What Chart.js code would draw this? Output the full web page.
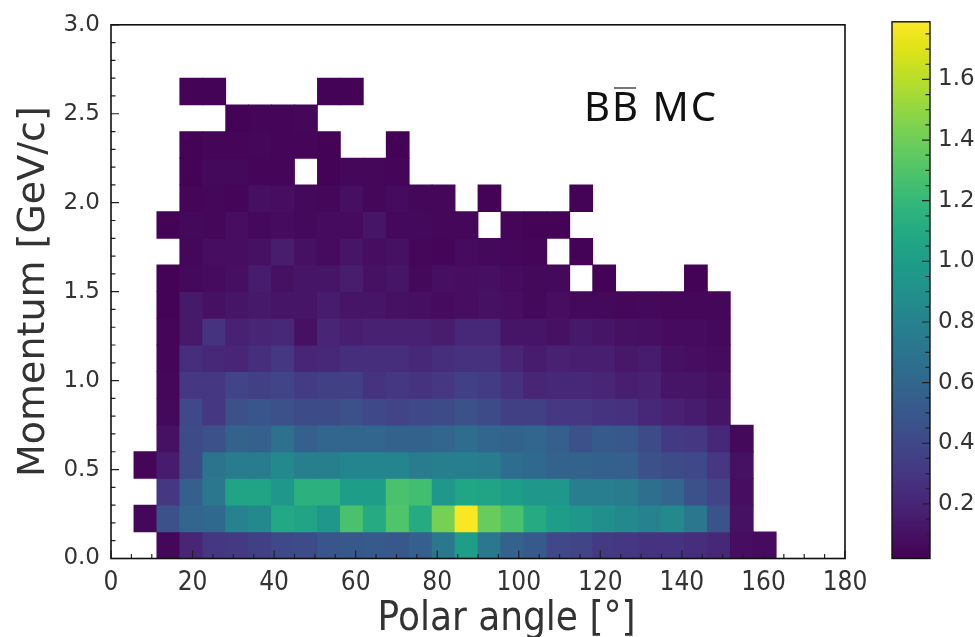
<!DOCTYPE html>
<html>
<head>
<meta charset="utf-8">
<script src="https://cdn.jsdelivr.net/npm/chart.js@4.4.0/dist/chart.umd.min.js"></script>
<style>
  html, body { margin: 0; padding: 0; background: #fff; }
  #wrap { position: relative; width: 975px; height: 637px; overflow: hidden; }
  #heat { position: absolute; left: 0; top: 0; }
  #cbar { position: absolute; left: 860px; top: 0; }
  #label { position: absolute; left: 584px; top: 86px; font-family: "Noto Sans", sans-serif; font-size: 40px; line-height: 40px; letter-spacing: 2px; color: #111; white-space: nowrap; }
  .ob { position: relative; }
  .ob::after { content: ''; position: absolute; left: 2px; right: 4px; top: 9px; height: 2px; background: #777; }
</style>
</head>
<body>
<div id="wrap">
  <canvas id="heat" width="975" height="637" style="width:975px;height:637px"></canvas>
  <canvas id="cbar" width="115" height="637" style="width:115px;height:637px"></canvas>
  <div id="label">B<span class="ob">B</span> MC</div>
</div>
<script>
// bin edges
const angleEdges = [0, 5.625, 11.25, 16.875, 22.5, 28.125, 33.75, 39.375, 45, 50.625, 56.25, 61.875,
  67.5, 73.125, 78.75, 84.375, 90, 95.625, 101.25, 106.875, 112.5, 118.125, 123.75, 129.375,
  135, 140.625, 146.25, 151.875, 157.5, 163.125, 168.75, 174.375, 180];
const momentumEdges = [0, 0.15, 0.3, 0.45, 0.6, 0.75, 0.9, 1.05, 1.2, 1.35, 1.5, 1.65, 1.8, 1.95,
  2.1, 2.25, 2.4, 2.55, 2.7, 2.85, 3.0];

const angleTicks = [0, 20, 40, 60, 80, 100, 120, 140, 160, 180];
const momentumTicks = [0, 0.5, 1.0, 1.5, 2.0, 2.5, 3.0];
const scaleTicks = [0.2, 0.4, 0.6, 0.8, 1.0, 1.2, 1.4, 1.6];
const scaleMin = 0.02, scaleMax = 1.79;

// one row per momentum bin (lowest first), one entry per angle bin, _ = empty
const _ = null;
const counts = [
  [_, _, 0.05, 0.2, 0.3, 0.32, 0.35, 0.4, 0.42, 0.48, 0.5, 0.52, 0.5, 0.55, 0.72, 1.0, 0.72, 0.57, 0.52, 0.4, 0.38, 0.32, 0.3, 0.28, 0.28, 0.25, 0.22, 0.08, 0.07],
  [_, 0.05, 0.45, 0.6, 0.62, 0.8, 0.85, 1.08, 1.05, 0.95, 1.28, 1.1, 1.3, 1.1, 1.42, 1.78, 1.38, 1.28, 1.1, 1.0, 0.95, 0.9, 0.85, 0.8, 0.85, 0.72, 0.47, 0.1],
  [_, _, 0.3, 0.55, 0.72, 1.05, 1.05, 0.95, 1.15, 1.15, 1.0, 1.0, 1.28, 1.25, 0.95, 1.07, 1.05, 1.0, 0.95, 0.95, 0.77, 0.77, 0.75, 0.66, 0.6, 0.45, 0.38, 0.08],
  [_, 0.04, 0.15, 0.42, 0.7, 0.75, 0.75, 0.85, 0.78, 0.78, 0.82, 0.82, 0.82, 0.75, 0.78, 0.78, 0.75, 0.65, 0.62, 0.58, 0.58, 0.56, 0.55, 0.45, 0.42, 0.4, 0.3, 0.1],
  [_, _, 0.1, 0.42, 0.45, 0.58, 0.55, 0.68, 0.55, 0.6, 0.6, 0.6, 0.58, 0.58, 0.6, 0.65, 0.6, 0.58, 0.6, 0.55, 0.45, 0.52, 0.5, 0.42, 0.32, 0.3, 0.22, 0.06],
  [_, _, 0.06, 0.4, 0.3, 0.45, 0.48, 0.45, 0.42, 0.42, 0.45, 0.4, 0.38, 0.4, 0.42, 0.45, 0.42, 0.35, 0.35, 0.3, 0.3, 0.28, 0.27, 0.22, 0.18, 0.15, 0.12],
  [_, _, 0.05, 0.3, 0.3, 0.38, 0.35, 0.38, 0.33, 0.35, 0.35, 0.28, 0.3, 0.28, 0.3, 0.35, 0.33, 0.27, 0.2, 0.22, 0.22, 0.2, 0.17, 0.18, 0.12, 0.12, 0.1],
  [_, _, 0.04, 0.25, 0.22, 0.2, 0.25, 0.3, 0.2, 0.22, 0.25, 0.25, 0.25, 0.22, 0.25, 0.27, 0.27, 0.2, 0.15, 0.18, 0.17, 0.17, 0.13, 0.15, 0.1, 0.08, 0.07],
  [_, _, 0.04, 0.14, 0.28, 0.18, 0.2, 0.22, 0.1, 0.2, 0.17, 0.18, 0.18, 0.18, 0.16, 0.22, 0.22, 0.12, 0.12, 0.1, 0.14, 0.12, 0.1, 0.09, 0.07, 0.07, 0.06],
  [_, _, 0.03, 0.14, 0.1, 0.12, 0.14, 0.12, 0.12, 0.15, 0.12, 0.12, 0.1, 0.09, 0.07, 0.08, 0.1, 0.08, 0.06, 0.08, 0.06, 0.06, 0.05, 0.06, 0.05, 0.05, 0.05],
  [_, _, 0.03, 0.06, 0.07, 0.09, 0.15, 0.1, 0.12, 0.12, 0.16, 0.1, 0.12, 0.06, 0.09, 0.08, 0.09, 0.07, 0.06, 0.06, _, 0.03, _, _, _, 0.03],
  [_, _, _, 0.05, 0.08, 0.08, 0.1, 0.16, 0.1, 0.07, 0.12, 0.08, 0.1, 0.05, 0.04, 0.07, 0.06, 0.05, 0.04, _, 0.03],
  [_, _, 0.03, 0.06, 0.05, 0.08, 0.06, 0.07, 0.06, 0.07, 0.07, 0.12, 0.06, 0.06, 0.05, 0.05, _, 0.04, 0.03, 0.03],
  [_, _, _, 0.04, 0.05, 0.04, 0.09, 0.08, 0.06, 0.05, 0.09, 0.05, 0.07, 0.05, 0.05, _, 0.03, _, _, _, 0.03],
  [_, _, _, 0.03, 0.06, 0.06, 0.04, 0.04, _, 0.03, 0.05, 0.05, 0.04],
  [_, _, _, 0.03, 0.04, 0.04, 0.05, 0.04, 0.04, 0.03, _, _, 0.03],
  [_, _, _, _, _, 0.03, 0.04, 0.04, 0.05],
  [_, _, _, 0.03, 0.03, _, _, _, _, 0.03, 0.03]
];

const viridisStops = ['#440154', '#471365', '#482475', '#463480', '#414487', '#3b528b', '#355f8d',
  '#2f6c8e', '#2a788e', '#25848e', '#21918c', '#1e9c89', '#22a884', '#2fb47c', '#44bf70',
  '#5ec962', '#7ad151', '#9bd93c', '#bddf26', '#dfe318', '#fde725'];

function hexRgb(h) {
  return [parseInt(h.slice(1, 3), 16), parseInt(h.slice(3, 5), 16), parseInt(h.slice(5, 7), 16)];
}

function viridis(v) {
  let t = (v - scaleMin) / (scaleMax - scaleMin);
  t = Math.max(0, Math.min(1, t));
  const p = t * (viridisStops.length - 1);
  const i = Math.min(Math.floor(p), viridisStops.length - 2);
  const f = p - i;
  const a = hexRgb(viridisStops[i]), b = hexRgb(viridisStops[i + 1]);
  const c = a.map((x, k) => Math.round(x + (b[k] - x) * f));
  return 'rgb(' + c.join(',') + ')';
}

const cells = [];
counts.forEach(function(row, j) {
  row.forEach(function(v, i) {
    if (v == null) return;
    cells.push({
      x: (angleEdges[i] + angleEdges[i + 1]) / 2,
      y: [momentumEdges[j], momentumEdges[j + 1]],
      v: v
    });
  });
});

const textColor = '#333';
const condensed = "'DejaVu Sans Condensed', 'DejaVu Sans'";

// inward ticks + frame, drawn over the cells
const axisFrame = {
  id: 'axisFrame',
  afterDraw(chart) {
    const {ctx, chartArea: a} = chart;
    const xs = chart.scales.x, ys = chart.scales.y;
    ctx.save();
    ctx.strokeStyle = '#222';
    ctx.lineWidth = 1.2;
    ctx.beginPath();
    for (let k = 0; k <= 36; k++) {
      const px = xs.getPixelForValue(k * 5);
      const len = k % 4 === 0 ? 8 : 4.5;
      ctx.moveTo(px, a.bottom);
      ctx.lineTo(px, a.bottom - len);
    }
    for (let k = 0; k <= 30; k++) {
      const py = ys.getPixelForValue(k / 10);
      const len = k % 5 === 0 ? 8 : 4.5;
      ctx.moveTo(a.left, py);
      ctx.lineTo(a.left + len, py);
    }
    ctx.stroke();
    ctx.lineWidth = 1.6;
    ctx.strokeStyle = '#111';
    ctx.strokeRect(a.left, a.top, a.right - a.left, a.bottom - a.top);
    ctx.restore();
  }
};

new Chart(document.getElementById('heat'), {
  type: 'bar',
  data: {
    datasets: [{
      data: cells,
      backgroundColor: function(c) { return viridis(c.raw ? c.raw.v : 0); },
      borderWidth: 0,
      barPercentage: 1,
      categoryPercentage: 1,
      inflateAmount: 0.4
    }]
  },
  options: {
    responsive: false,
    animation: false,
    layout: { padding: { left: 0, top: 21, right: 130, bottom: 0 } },
    plugins: { legend: { display: false }, tooltip: { enabled: false } },
    scales: {
      x: {
        type: 'linear',
        min: 0,
        max: 180,
        offset: false,
        grid: { display: false, drawTicks: false, offset: false },
        border: { display: false },
        afterBuildTicks: function(s) { s.ticks = angleTicks.map(v => ({ value: v })); },
        afterFit: function(s) { s.height = 78.5; },
        ticks: {
          color: textColor,
          padding: 9,
          maxRotation: 0,
          font: { family: condensed, size: 26 },
          callback: v => String(v)
        },
        title: {
          display: true,
          // leading spaces nudge the title right, as in the original figure
          text: '     Polar angle [°]',
          color: textColor,
          padding: { top: 0, bottom: -3 },
          font: { family: condensed, size: 40, lineHeight: 1 }
        }
      },
      y: {
        type: 'linear',
        min: 0,
        max: 3,
        grid: { display: false, drawTicks: false },
        border: { display: false },
        afterBuildTicks: function(s) { s.ticks = momentumTicks.map(v => ({ value: v })); },
        afterFit: function(s) { s.width = 111; },
        ticks: {
          color: textColor,
          padding: 11,
          font: { family: 'DejaVu Sans', size: 23 },
          callback: v => Number(v).toFixed(1)
        },
        title: {
          display: true,
          text: 'Momentum [GeV/c]',
          color: textColor,
          padding: { top: 11, bottom: 0 },
          font: { family: 'DejaVu Sans', size: 38 }
        }
      }
    }
  },
  plugins: [axisFrame]
});

// colour bar
const barFrame = {
  id: 'barFrame',
  afterDraw(chart) {
    const {ctx, chartArea: a} = chart;
    const ys = chart.scales.y;
    ctx.save();
    ctx.strokeStyle = '#222';
    ctx.lineWidth = 1.2;
    ctx.beginPath();
    for (let k = 1; k <= 35; k++) {
      const py = ys.getPixelForValue(k * 0.05);
      const len = k % 4 === 0 ? 8 : 4.5;
      ctx.moveTo(a.right, py);
      ctx.lineTo(a.right - len, py);
    }
    ctx.stroke();
    ctx.lineWidth = 1.4;
    ctx.strokeStyle = '#111';
    ctx.strokeRect(a.left, a.top, a.right - a.left, a.bottom - a.top);
    ctx.restore();
  }
};

new Chart(document.getElementById('cbar'), {
  type: 'bar',
  data: {
    labels: [''],
    datasets: [{
      data: [[scaleMin, scaleMax]],
      backgroundColor: function(c) {
        const area = c.chart.chartArea;
        if (!area) return viridisStops[0];
        const g = c.chart.ctx.createLinearGradient(0, area.bottom, 0, area.top);
        viridisStops.forEach((col, k) => g.addColorStop(k / (viridisStops.length - 1), col));
        return g;
      },
      borderWidth: 0,
      barPercentage: 1,
      categoryPercentage: 1
    }]
  },
  options: {
    responsive: false,
    animation: false,
    layout: { padding: { left: 32, top: 21, right: 0, bottom: 78.5 } },
    plugins: { legend: { display: false }, tooltip: { enabled: false } },
    scales: {
      x: { display: false },
      y: {
        position: 'right',
        min: scaleMin,
        max: scaleMax,
        grid: { display: false, drawTicks: false },
        border: { display: false },
        afterBuildTicks: function(s) { s.ticks = scaleTicks.map(v => ({ value: v })); },
        afterFit: function(s) { s.width = 45; },
        ticks: {
          color: textColor,
          padding: 8,
          font: { family: 'DejaVu Sans', size: 23 },
          callback: v => Number(v).toFixed(1)
        }
      }
    }
  },
  plugins: [barFrame]
});
</script>
</body>
</html>
